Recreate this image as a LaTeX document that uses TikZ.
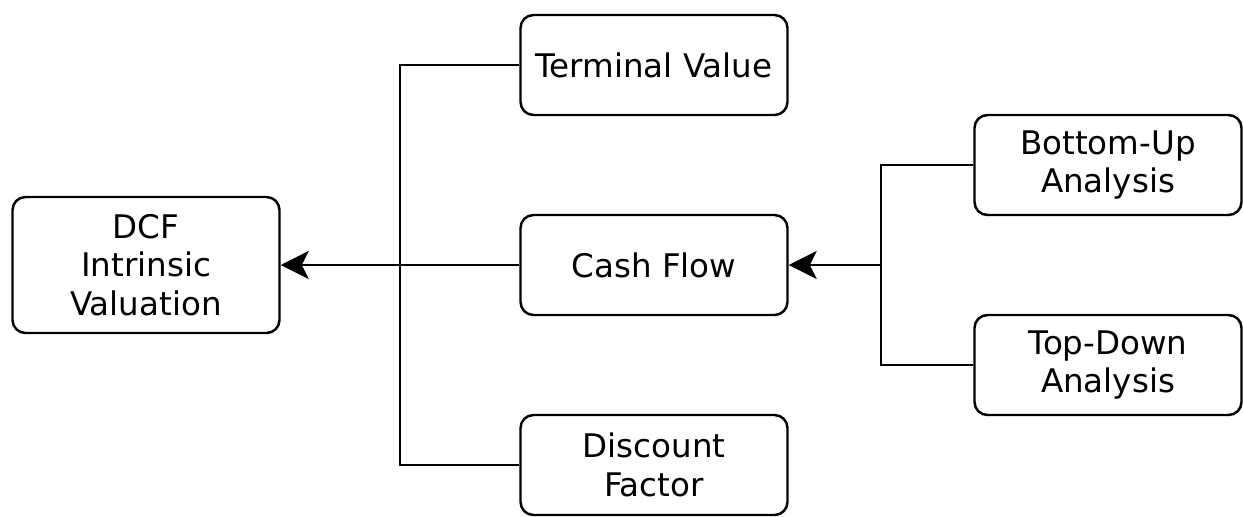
\documentclass[tikz,border=0pt]{standalone}
\usepackage{fontspec}
\setmainfont{DejaVu Sans}
\usepackage{tikz}
\usetikzlibrary{arrows.meta,calc}

\begin{document}
\begin{tikzpicture}[font=\fontsize{18.5}{22}\selectfont, node distance={40mm}, line width=1.4pt,
    box/.style = {draw, rounded corners=0.26cm, align=center, minimum width=5.34cm, minimum height=2cm},
    tall/.style = {box, minimum height=2.72cm},
    tip/.style = {-{Stealth[length=0.56cm, width=0.56cm, inset=0.14cm]}}]
                \node[tall] (dcf) {DCF\\Intrinsic\\Valuation};
                \node[box] (cf) [right of=dcf, xshift=61.6mm] {Cash Flow};
                \node[box] (tv) [above of=cf] {Terminal Value};
                \node[box] (df) [below of=cf] {Discount\\Factor};
                \node[box] (bu) [right of=cf, xshift=50.8mm, yshift=20mm] {Bottom-Up\\Analysis};
                \node[box] (td) [below of=bu] {Top-Down\\Analysis};
                \coordinate (j1) at ($(dcf.east)!0.5!(cf.west)$);
                \coordinate (j2) at ($(cf.east)!0.5!(bu.west|-cf.east)$);
                \useasboundingbox ($(dcf.center)+(-2.92,5.3)$) rectangle ++(24.86,-10.26);
                \draw (tv.west) -| (j1) |- (df.west);
                \draw[tip] (cf.west) -- (dcf.east);
                \draw (bu.west) -| (j2) |- (td.west);
                \draw[tip] (j2) -- (cf.east);
            \end{tikzpicture}
\end{document}
